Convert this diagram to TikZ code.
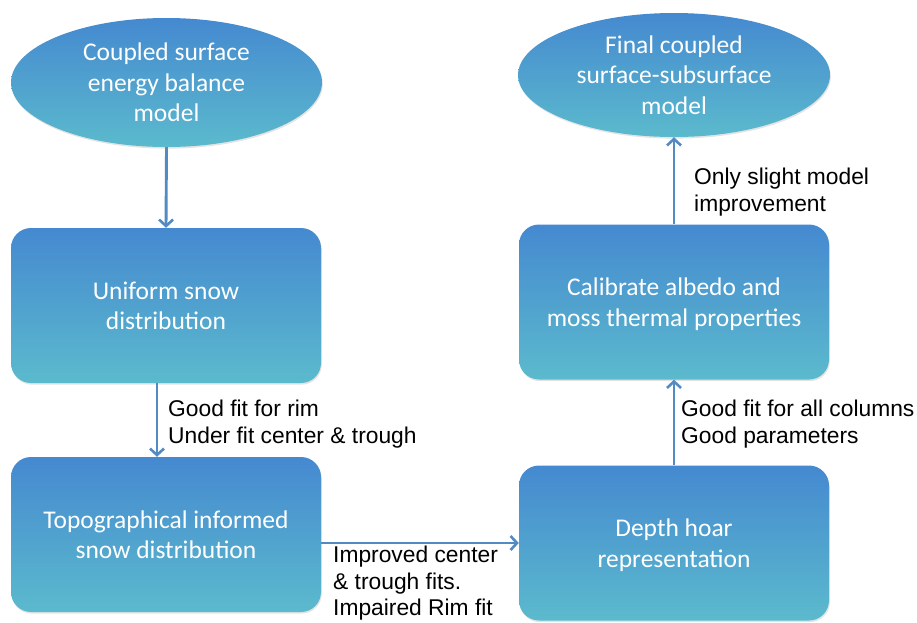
\documentclass[tikz,border=0pt]{standalone}
\usepackage{fontspec}
\setmainfont{Carlito}
\newfontfamily\labelfont{Liberation Sans}
\usetikzlibrary{shapes.geometric,arrows.meta,shadows}
\definecolor{topblue}{RGB}{69,137,208}
\definecolor{botblue}{RGB}{91,186,205}
\definecolor{arrowcol}{RGB}{82,138,196}
\tikzset{
  shapebase/.style={top color=topblue, bottom color=botblue, draw=none, text=white,
    align=center, inner sep=0pt, text depth=0pt,
    font=\fontsize{25.5}{30.5}\selectfont,
    drop shadow={opacity=0.22, shadow xshift=0.8pt, shadow yshift=-1.6pt}},
  ovalnode/.style={shapebase, ellipse},
  boxnode/.style={shapebase, rectangle, rounded corners=20pt,
    minimum width=310pt, minimum height=155pt},
  conn/.style={draw=arrowcol, line width=2.9pt,
    -{Straight Barb[length=6.5pt,width=14pt,line width=2.6pt]}},
  lbl/.style={anchor=north west, inner sep=0pt, align=left, text=black,
    font=\labelfont\fontsize{22.8}{26.6}\selectfont}
}
\begin{document}
\begin{tikzpicture}[x=1pt,y=-1pt]
\useasboundingbox (0,0) rectangle (917,622);
\node[ovalnode, minimum width=311pt, minimum height=129pt] (e1) at (166.5,82.5)
  {Coupled surface\\energy balance\\model};
\node[boxnode] (b1) at (166,305.5) {Uniform snow\\distribution};
\node[boxnode] (b2) at (166,534.5) {Topographical informed\\snow distribution};
\node[boxnode] (b3) at (674,543) {Depth hoar\\representation};
\node[boxnode] (b4) at (674,302) {Calibrate albedo and\\moss thermal properties};
\node[ovalnode, minimum width=312pt, minimum height=124pt] (e2) at (674,75)
  {Final coupled\\surface-subsurface\\model};

\draw[conn] (e1.south) -- (b1.north);
\draw[conn] ([xshift=-9pt]b1.south) -- ([xshift=-9pt]b2.north);
\draw[conn] (b2.east |- b3.west) -- (b3.west);
\draw[conn] (b3.north) -- (b4.south);
\draw[conn] (b4.north) -- (e2.south);

\node[lbl] (l1) at (168,400) {Good fit for rim\\Under fit center \& trough};
\node[lbl] (l2) at (333,546) {Improved center\\\& trough fits.\\Impaired Rim fit};
\node[lbl] (l3) at (681,400) {Good fit for all columns\\Good parameters};
\node[lbl] (l4) at (694,168) {Only slight model\\improvement};
\end{tikzpicture}
\end{document}
